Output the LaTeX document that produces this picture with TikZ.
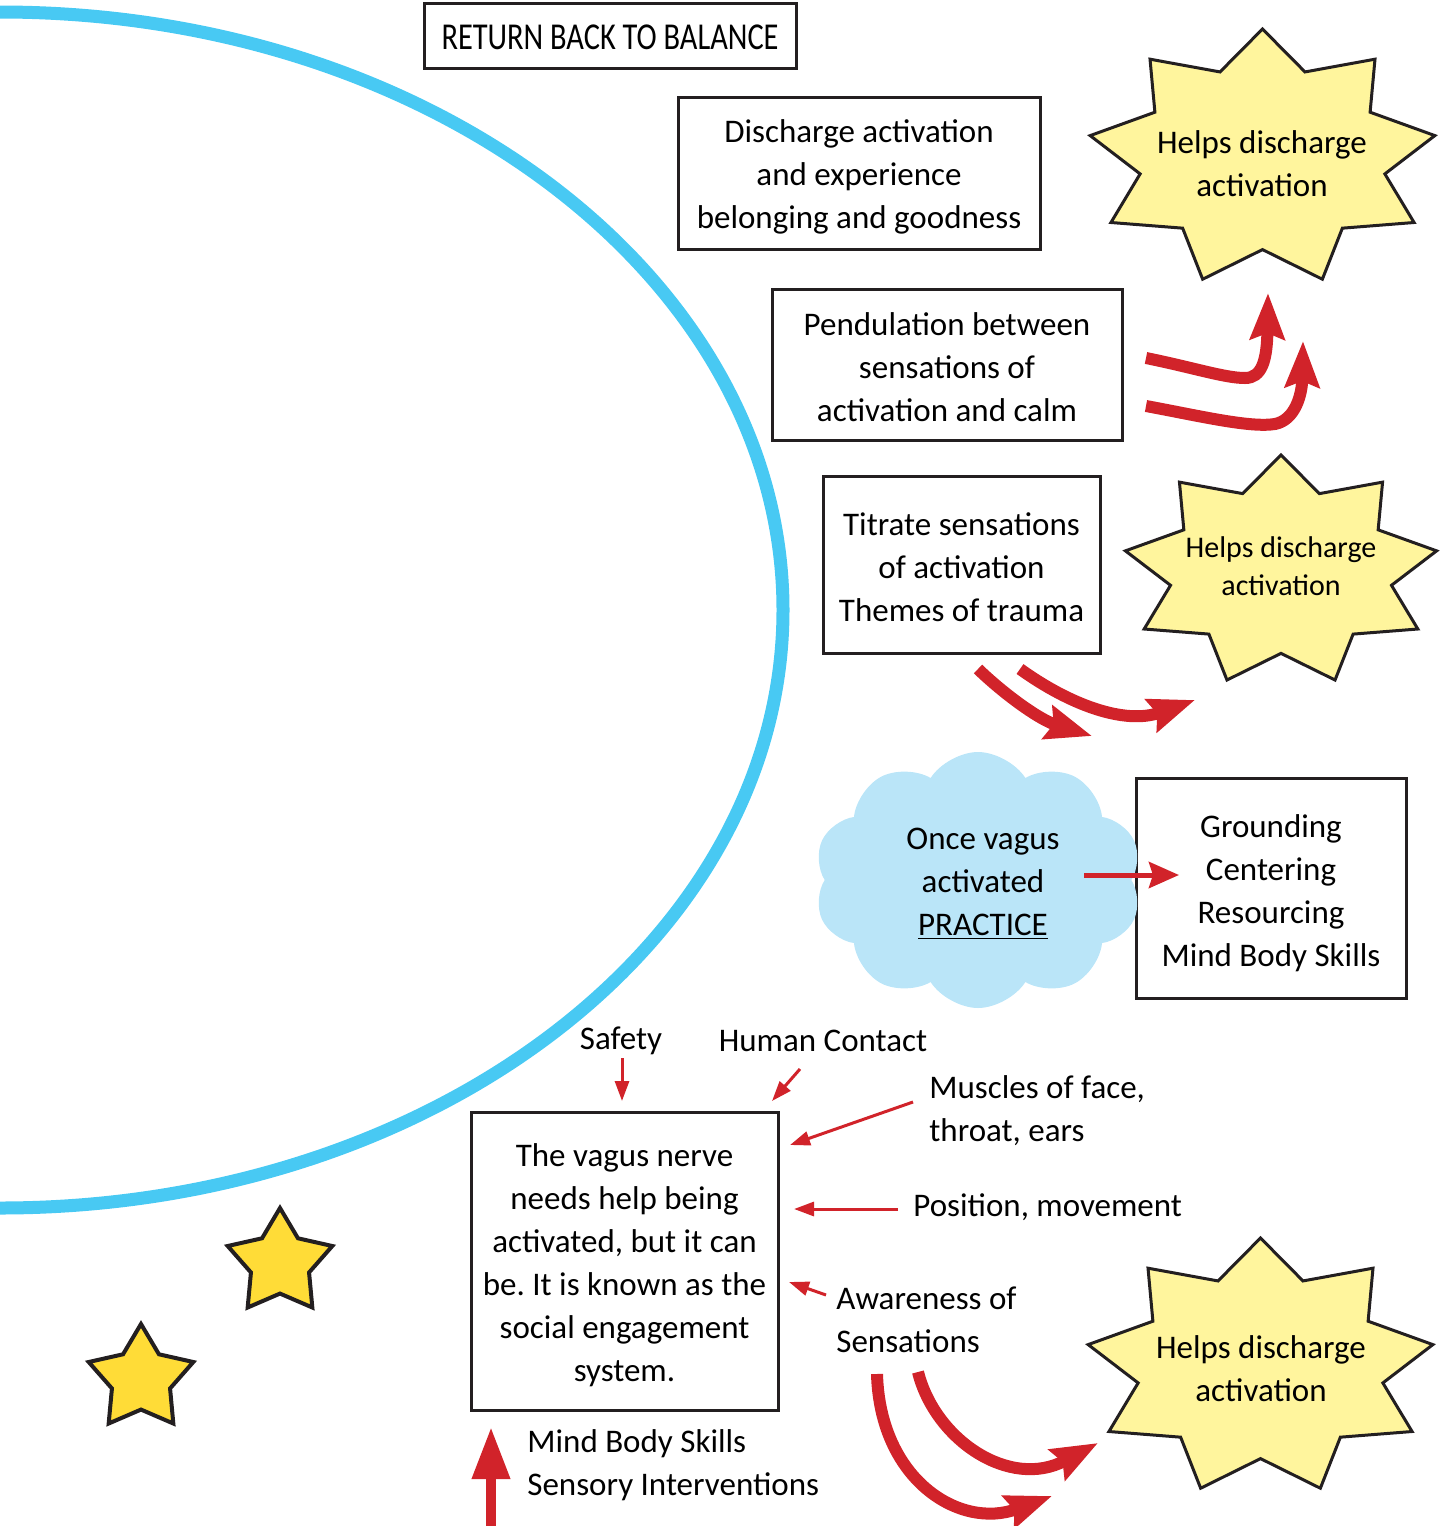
\documentclass[tikz,border=0pt]{standalone}
\usepackage{fontspec}
\setmainfont{Carlito}
\usetikzlibrary{arrows.meta,shapes.geometric,shapes.symbols}
\frenchspacing

\definecolor{arcblue}{HTML}{48C9F3}
\definecolor{cloudblue}{HTML}{BAE5F8}
\definecolor{arrowred}{HTML}{D1232A}
\definecolor{burstyellow}{HTML}{FFF59D}
\definecolor{stargold}{HTML}{FFDC37}
\definecolor{ink}{HTML}{231F20}

\newcommand\bodyfont{\fontsize{16.5}{21.5}\selectfont}
\newcommand\smallbodyfont{\fontsize{15}{19}\selectfont}

% nine-pointed burst: centre x, centre y, x radius, y radius
\newcommand\burstpoly[4]{%
  \draw[burst] plot[samples at={0,...,17}, variable=\k] ({#1+ifthenelse(mod(\k,2)==0,1,0.71)*#3*cos(90+20*\k)},{#2-ifthenelse(mod(\k,2)==0,1,0.71)*#4*sin(90+20*\k)}) -- cycle;}

\tikzset{
  box/.style={draw=ink, line width=1.5pt, inner sep=0pt},
  boxtext/.style={align=center, inner sep=0pt, font=\bodyfont},
  burst/.style={draw=ink, line width=1.5pt, fill=burstyellow},
  bursttext/.style={align=center, inner sep=0pt, font=\bodyfont},
  lbl/.style={align=left, inner sep=0pt, font=\bodyfont},
  thinarrow/.style={draw=arrowred, line width=1.5pt, -{Triangle[length=10pt,width=7pt]}},
  midarrow/.style={draw=arrowred, line width=2.5pt, -{Stealth[length=15pt,width=13pt,inset=2pt]}},
  fatarrow/.style={draw=arrowred, line width=6pt, -{Stealth[length=23pt,width=17pt,inset=3pt]}},
  uparrow/.style={draw=arrowred, line width=5pt, -{Triangle[length=26pt,width=18pt]}},
  smallstar/.style={star, star points=5, star point ratio=1.8, minimum size=55pt, inner sep=0pt,
    draw=ink, line width=2pt, fill=stargold},
}

\begin{document}
\begin{tikzpicture}[x=0.5pt,y=-0.5pt]
\useasboundingbox (0,0) rectangle (1449,1526);
\clip (0,0) rectangle (1449,1526);

% large blue arc
\draw[arcblue, line width=6.5pt] (0,610) ellipse [x radius=391.5pt, y radius=299pt];

% boxes
\node[box, minimum width=186pt, minimum height=32.5pt] (ret) at (610,35.5) {};
\node[boxtext] (rettext) at ([yshift=-1pt]ret.center)
  {\scalebox{0.8}[1]{\fontsize{19}{22}\selectfont RETURN BACK TO BALANCE}};

\node[box, minimum width=181pt, minimum height=76pt] (discharge) at (859,173) {};
\node[boxtext] (dischargetext) at ([yshift=-2pt]discharge.center)
  {Discharge activation\\and experience\\belonging and goodness};

\node[box, minimum width=175pt, minimum height=75.5pt] (pend) at (947,364.5) {};
\node[boxtext] (pendtext) at ([yshift=-1.5pt]pend.center)
  {Pendulation between\\sensations of\\activation and calm};

\node[box, minimum width=138.5pt, minimum height=88.5pt] (titrate) at (961.5,564.5) {};
\node[boxtext] (titratetext) at ([yshift=-1.5pt]titrate.center)
  {Titrate sensations\\of activation\\Themes of trauma};

\node[box, minimum width=135pt, minimum height=110pt] (ground) at (1271,888) {};
\node[boxtext] (groundtext) at ([yshift=-2.5pt]ground.center)
  {Grounding\\Centering\\Resourcing\\Mind Body Skills};

\node[box, minimum width=153.5pt, minimum height=149pt] (vagus) at (624.5,1261) {};
\node[boxtext] (vagustext) at ([yshift=-2pt]vagus.center)
  {The vagus nerve\\needs help being\\activated, but it can\\be. It is known as the\\social engagement\\system.};

% bursts
\burstpoly{1262.5}{158}{175}{129}
\node[bursttext] (burstA) at (1262,164) {Helps discharge\\activation};
\burstpoly{1281}{571}{158}{116}
\node[bursttext, font=\smallbodyfont] (burstB) at (1281,566) {Helps discharge\\activation};
\burstpoly{1260.5}{1367}{175}{129}
\node[bursttext] (burstC) at (1261,1369) {Helps discharge\\activation};

% cloud
\node[cloud, cloud puffs=10, cloud puff arc=115, cloud ignores aspect, fill=cloudblue,
  minimum width=164pt, minimum height=128pt, inner sep=0pt] (cloud) at (978,880) {};
\node[bursttext] (cloudtext) at (983,884) {Once vagus\\activated\\\underline{PRACTICE}};

% small stars
\node[smallstar] (starA) at (280,1263) {};
\node[smallstar] (starB) at (141,1379) {};

% labels round the vagus box
\node[lbl] (safety) at (621,1041) {Safety};
\node[lbl] (human) at (823,1041) {Human Contact};
\node[lbl, anchor=west] (muscles) at (929,1111) {Muscles of face,\\throat, ears};
\node[lbl, anchor=west] (position) at (913,1207.5) {Position, movement};
\node[lbl, anchor=west] (aware) at (836,1320) {Awareness of\\Sensations};
\node[lbl, anchor=west] (mbs) at (527,1465.5) {Mind Body Skills\\Sensory Interventions};

% arrow end points
\coordinate (pA0) at (1146,358);  \coordinate (pA1) at (1268,293);
\coordinate (pB0) at (1146,406);  \coordinate (pB1) at (1303,341);
\coordinate (tC0) at (978,669);   \coordinate (tC1) at (1092,736);
\coordinate (tD0) at (1020,669);  \coordinate (tD1) at (1195,700);
\coordinate (aE0) at (877,1374);  \coordinate (aE1) at (1052,1496);
\coordinate (aF0) at (918,1372);  \coordinate (aF1) at (1098,1443);
\coordinate (cl0) at (1084,875);  \coordinate (cl1) at (1179,875);
\coordinate (sf0) at (622,1058);  \coordinate (sf1) at (622,1101);
\coordinate (hc0) at (800,1069);  \coordinate (hc1) at (772,1101);
\coordinate (mu0) at (913,1102);  \coordinate (mu1) at (790,1145);
\coordinate (po0) at (898,1209);  \coordinate (po1) at (794,1209);
\coordinate (aw0) at (826,1295);  \coordinate (aw1) at (789,1282);
\coordinate (up0) at (491,1526);  \coordinate (up1) at (491,1427);

% pendulation arrows
\draw[fatarrow] (pA0) .. controls (1195,368) and (1225,378) .. (1245,378)
  .. controls (1262,378) and (1267,360) .. (pA1);
\draw[fatarrow] (pB0) .. controls (1200,416) and (1250,428) .. (1275,424)
  .. controls (1295,420) and (1302,395) .. (pB1);

% titration arrows
\draw[fatarrow] (tC0) .. controls (1005,695) and (1040,720) .. (tC1);
\draw[fatarrow] (tD0) .. controls (1070,705) and (1125,725) .. (tD1);

% awareness arrows
\draw[fatarrow] (aE0) .. controls (880,1480) and (960,1530) .. (aE1);
\draw[fatarrow] (aF0) .. controls (935,1440) and (1010,1490) .. (aF1);

% cloud to practice box
\draw[midarrow] (cl0) -- (cl1);

% inputs to the vagus box
\draw[thinarrow] (sf0) -- (sf1);
\draw[thinarrow] (hc0) -- (hc1);
\draw[thinarrow] (mu0) -- (mu1);
\draw[thinarrow] (po0) -- (po1);
\draw[thinarrow] (aw0) -- (aw1);
\draw[uparrow] (up0) -- (up1);
\end{tikzpicture}
\end{document}
